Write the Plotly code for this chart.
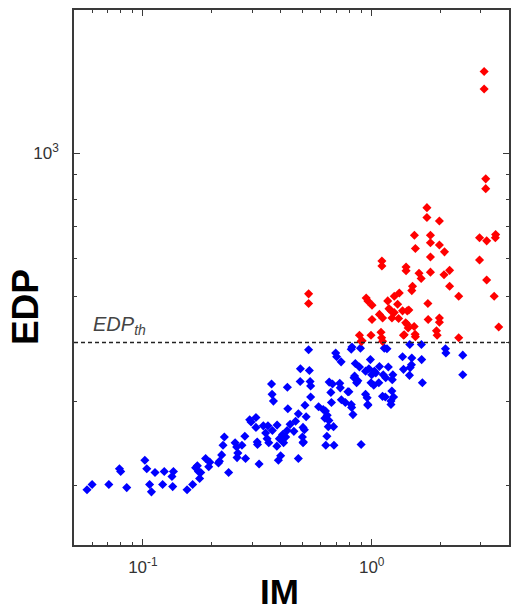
import plotly.graph_objects as go

# ---- data ----
blue_im = [0.057, 0.060, 0.071, 0.079, 0.080, 0.085, 0.102, 0.104, 0.107, 0.109,
           0.113, 0.122, 0.124, 0.134, 0.136, 0.135, 0.156, 0.165, 0.170, 0.173,
           0.175, 0.177, 0.188, 0.194, 0.196, 0.214, 0.221, 0.224, 0.227, 0.237,
           0.253, 0.257, 0.260, 0.258, 0.271, 0.279, 0.281, 0.293, 0.297, 0.312,
           0.312, 0.316, 0.317, 0.322, 0.336, 0.344, 0.349, 0.352, 0.355, 0.368,
           0.372, 0.386, 0.385, 0.395, 0.391, 0.400, 0.408, 0.421, 0.430, 0.427,
           0.440, 0.457, 0.465, 0.478, 0.478, 0.501, 0.498, 0.501, 0.511, 0.517,
           0.586, 0.628, 0.639, 0.637, 0.630, 0.650, 0.646, 0.681, 0.684, 0.667,
           0.767, 0.817, 0.828, 0.899, 0.962, 1.214,
           0.530, 0.488, 0.534, 0.487, 0.538, 0.541, 0.541, 0.365, 0.367, 0.428,
           0.696, 0.703, 0.735, 0.652, 0.674, 0.663, 0.725, 0.729, 0.795, 0.820,
           0.814, 0.893, 0.848, 0.884, 0.837, 0.859, 0.940, 0.987, 0.972, 1.000,
           1.028, 0.993, 1.021, 1.081, 1.074, 1.135, 1.166, 1.123, 1.182, 1.237,
           1.230, 1.147, 1.225, 1.246, 0.940, 0.955, 1.364, 1.377, 1.467, 1.497,
           1.492, 1.473, 1.462, 1.649, 1.653, 1.665, 2.10, 2.11, 2.50, 2.50,
           0.614, 0.624, 0.412, 0.405, 0.503, 0.508, 0.737, 0.787, 0.814, 0.842,
           0.870, 1.042, 1.151, 1.115, 1.214, 0.962, 0.179, 0.216]
blue_edp = [196, 201, 201, 217, 214, 198, 226, 217, 201, 194,
            213, 201, 214, 209, 214, 199, 196, 201, 218, 220,
            214, 207, 228, 219, 224, 223, 232, 243, 253, 213,
            246, 241, 234, 229, 243, 254, 228, 275, 272, 278,
            265, 247, 244, 222, 267, 258, 251, 267, 246, 261,
            301, 268, 242, 251, 226, 231, 256, 253, 290, 261,
            269, 260, 273, 228, 283, 265, 253, 246, 295, 279,
            293, 287, 281, 254, 243, 274, 266, 266, 243, 299,
            299, 292, 282, 244, 295, 296,
            386, 352, 349, 331, 331, 324, 307, 327, 311, 322,
            380, 373, 364, 330, 327, 314, 328, 321, 315, 391,
            387, 389, 361, 355, 337, 329, 348, 368, 352, 342,
            348, 329, 325, 356, 329, 389, 388, 342, 355, 342,
            334, 307, 316, 307, 311, 306, 373, 351, 396, 371,
            359, 354, 341, 396, 368, 329, 388, 380, 376, 342,
            289, 277, 246, 249, 247, 262, 303, 315, 296, 340,
            332, 345, 337, 308, 301, 296, 213, 225]

red_im = [0.530, 0.530, 1.743, 1.743, 1.976, 1.537, 1.806, 1.806, 1.552, 1.976,
          2.08, 1.806, 1.108, 1.108, 1.413, 1.413, 1.806, 2.07, 2.19, 1.610,
          1.645, 1.508, 1.497, 2.19, 2.40, 1.320, 1.255, 1.175, 1.298, 0.946,
          0.962, 1.003, 1.760, 1.214, 1.254, 1.364, 1.430, 1.081, 1.116, 1.003,
          1.226, 1.311, 1.408, 1.443, 1.533, 1.765, 1.976, 1.976, 1.919, 1.932,
          2.40, 0.884, 0.993, 1.098, 1.105, 1.377, 1.552, 0.899, 1.116, 2.96,
          3.18, 3.48, 3.47, 2.96, 3.18, 3.43, 3.59, 3.10, 3.10, 3.15,
          3.15, 1.453, 1.430, 0.908, 1.387, 1.190, 1.548]
red_edp = [506, 483, 768, 732, 720, 672, 672, 648, 630, 641,
           620, 605, 593, 579, 576, 566, 562, 555, 567, 559,
           545, 525, 514, 525, 500, 508, 500, 489, 481, 496,
           489, 479, 483, 466, 462, 466, 466, 458, 450, 447,
           450, 449, 440, 429, 432, 447, 450, 441, 423, 414,
           409, 414, 414, 420, 409, 414, 411, 402, 402, 664,
           654, 674, 664, 596, 541, 500, 431, 1485, 1364, 883,
           842, 468, 436, 403, 415, 471, 416]

edp_threshold = 400
x_major = [0.1, 1]
x_major_text = ["10<sup>-1</sup>", "10<sup>0</sup>"]
x_minor = [0.06, 0.07, 0.08, 0.09, 0.2, 0.3, 0.4, 0.5, 0.6, 0.7, 0.8, 0.9, 2, 3, 4]
y_major = [1000]
y_major_text = ["10<sup>3</sup>"]
y_minor = [200, 300, 400, 500, 600, 700, 800, 900, 2000]

FONT = "Liberation Sans, Arial, sans-serif"
AX = "#3a3a3a"

fig = go.Figure()
fig.add_trace(go.Scatter(x=blue_im, y=blue_edp, mode="markers",
                         marker=dict(symbol="diamond", size=7, color="#0000ff",
                                     line=dict(width=0)),
                         showlegend=False))
fig.add_trace(go.Scatter(x=red_im, y=red_edp, mode="markers",
                         marker=dict(symbol="diamond", size=7, color="#ff0000",
                                     line=dict(width=0)),
                         showlegend=False))

fig.add_shape(type="line", xref="paper", x0=0, x1=1, yref="y",
              y0=edp_threshold, y1=edp_threshold,
              line=dict(color="#222", width=1.5, dash="4px,3px"))

axis_common = dict(showline=True, linecolor=AX, linewidth=1.5, mirror="ticks",
                   ticks="inside", ticklen=6, tickwidth=1, tickcolor=AX,
                   showgrid=False, zeroline=False,
                   tickfont=dict(family=FONT, size=17, color="#333"))

fig.update_xaxes(type="log", range=[-1.301, 0.6], tickmode="array",
                 tickvals=x_major, ticktext=x_major_text,
                 minor=dict(tickmode="array", tickvals=x_minor, ticklen=3,
                            tickcolor=AX, ticks="inside", showgrid=False),
                 ticklabelstandoff=6, **axis_common)
fig.update_yaxes(type="log", range=[2.176, 3.301], tickmode="array",
                 tickvals=y_major, ticktext=y_major_text,
                 minor=dict(tickmode="array", tickvals=y_minor, ticklen=3,
                            tickcolor=AX, ticks="inside", showgrid=False),
                 ticklabelstandoff=10, **axis_common)

fig.add_annotation(text="<i>EDP<sub>th</sub></i>", xref="paper", yref="paper",
                   x=0.038, y=0.384, xanchor="left", yanchor="bottom",
                   showarrow=False, font=dict(family=FONT, size=20, color="#444"))
fig.add_annotation(text="<b>EDP</b>", xref="paper", yref="paper",
                   x=-0.11, y=0.445, textangle=-90, xanchor="center", yanchor="middle",
                   showarrow=False, font=dict(family=FONT, size=37, color="#000"))
fig.add_annotation(text="<b>IM</b>", xref="paper", yref="paper",
                   x=0.473, y=-0.087, xanchor="center", yanchor="middle",
                   showarrow=False, font=dict(family=FONT, size=35, color="#000"))

fig.update_layout(width=512, height=609, margin=dict(l=74, r=1, t=10, b=64),
                  paper_bgcolor="white", plot_bgcolor="white",
                  font=dict(family=FONT))

fig.write_html("out.html", config={"displayModeBar": False},
               post_script="document.body.style.margin='0';"
                           "document.body.style.overflow='hidden';")
